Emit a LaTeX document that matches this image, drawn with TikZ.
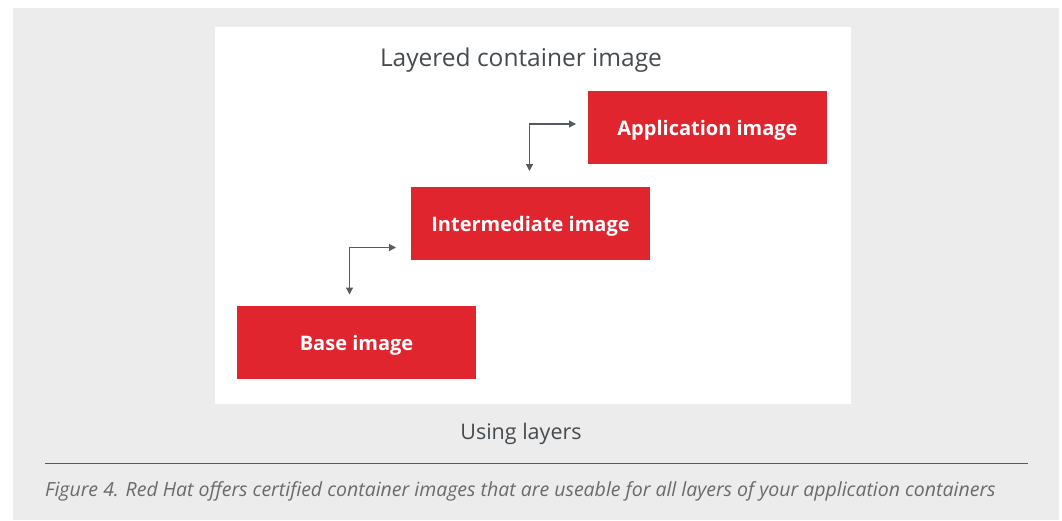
\documentclass[tikz,border=0pt]{standalone}
\usepackage{fontspec}
\setmainfont{Open Sans}
\usetikzlibrary{arrows.meta}
\definecolor{rhred}{HTML}{E1252F}
\definecolor{bggray}{HTML}{ECECEC}
\definecolor{txtgray}{HTML}{464B50}
\definecolor{capgray}{HTML}{6A6A6A}
\definecolor{linegray}{HTML}{555B60}
\begin{document}
\begin{tikzpicture}[x=1pt,y=-1pt,
  layer/.style={fill=rhred, minimum width=239, minimum height=73, inner sep=0, text height=15pt, text depth=0pt, text=white, font=\bfseries\fontsize{20}{22}\selectfont},
  conn/.style={draw=linegray, line width=1.1pt, {Triangle[width=7pt,length=7pt]}-{Triangle[width=7pt,length=7pt]}},
  heading/.style={text=txtgray, font=\fontsize{24.5}{27}\selectfont, inner sep=0, anchor=base},
  rulestyle/.style={draw=linegray, line width=1pt}]
\useasboundingbox (0,0) rectangle (1062,520);
\fill[white] (0,0) rectangle (1062,520);
\fill[bggray] (13,8) rectangle (1059,520);
\fill[white] (215,27) rectangle (851,404);
\node[layer] (app) at (707.5,127.5) {Application image};
\node[layer] (inter) at (530.5,223.5) {Intermediate image};
\node[layer] (base) at (356.5,342.5) {Base image};
\coordinate (a1d) at (529.5,171);
\coordinate (a1r) at (576,124);
\coordinate (a2d) at (349.5,294.5);
\coordinate (a2r) at (396,247.5);
\draw[conn] (a1d) |- (a1r);
\draw[conn] (a2d) |- (a2r);
\node[heading] (title) at (521,66) {Layered container image};
\node[heading, font=\fontsize{21.5}{24}\selectfont] (using) at (521,439) {Using layers};
\coordinate (rl) at (45,463.5);
\coordinate (rr) at (1028,463.5);
\draw[rulestyle] (rl) -- (rr);
\node[anchor=base west, inner sep=0, text=capgray, font=\itshape\fontsize{19.5}{22}\selectfont] (cap) at (45,496) {Figure 4. Red Hat offers certified container images that are useable for all layers of your application containers};
\end{tikzpicture}
\end{document}
